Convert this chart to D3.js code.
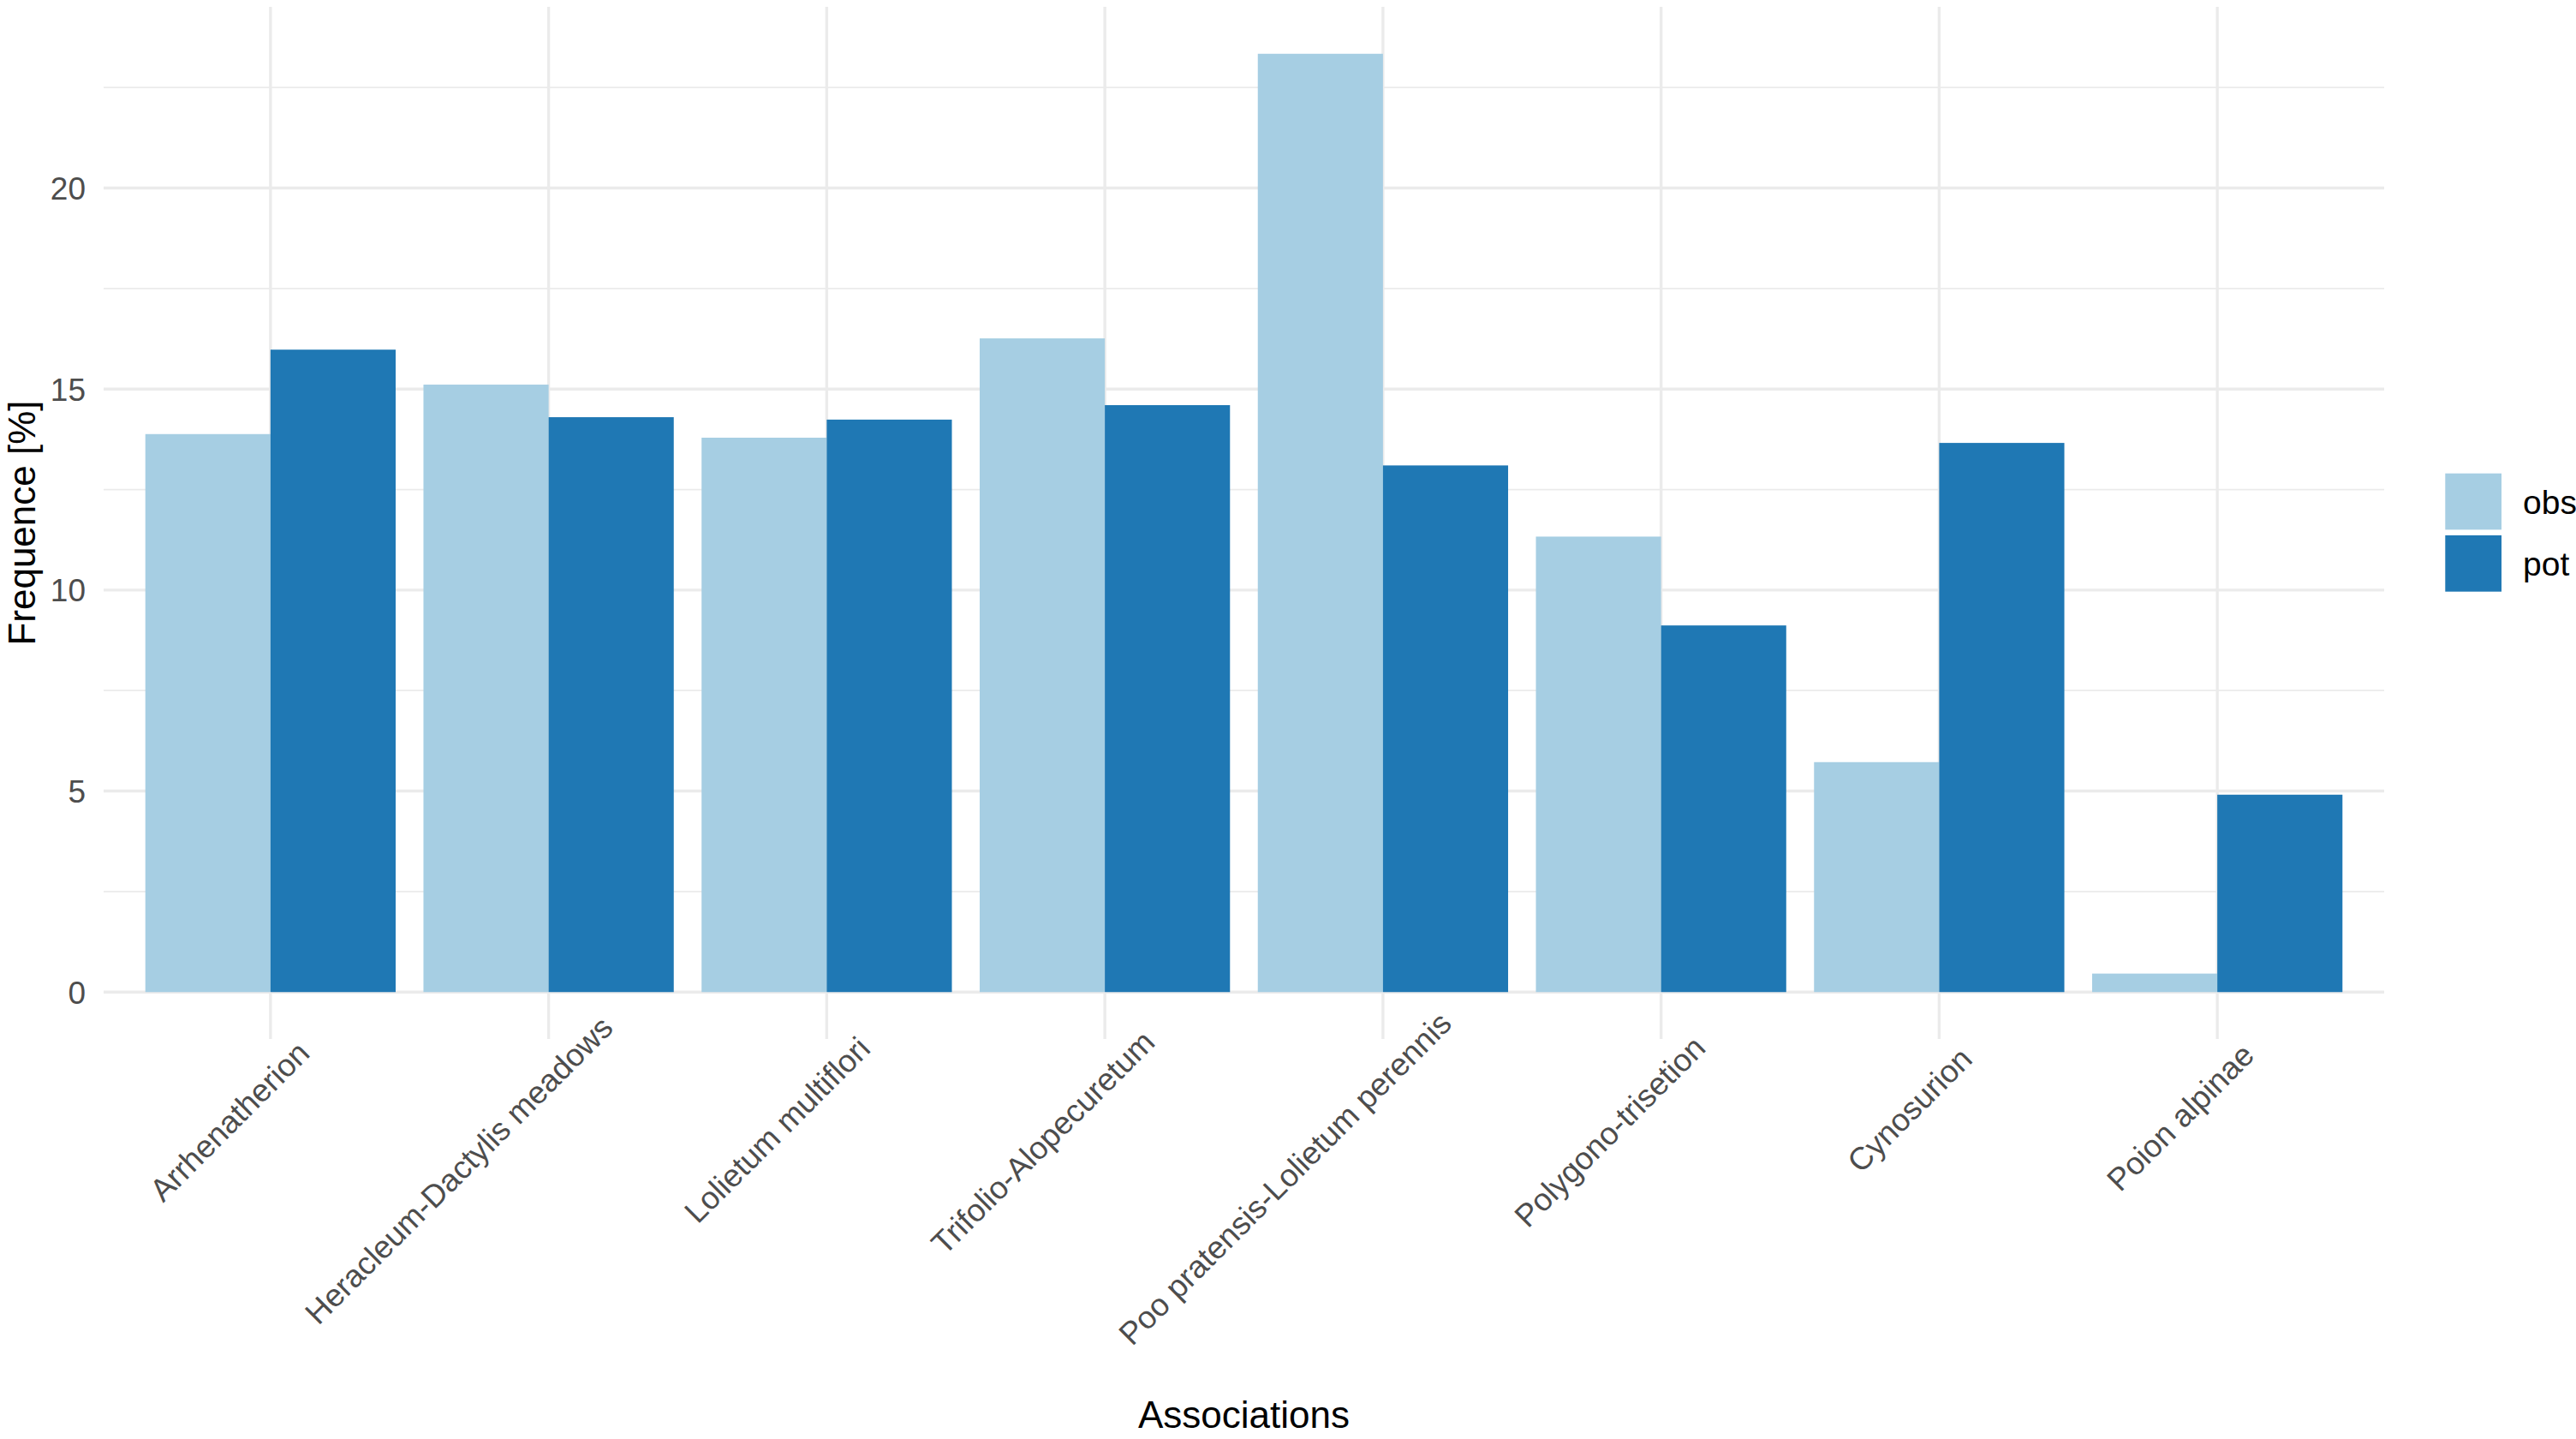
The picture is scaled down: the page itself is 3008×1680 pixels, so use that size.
<!DOCTYPE html>
<html>
<head>
<meta charset="utf-8">
<script src="https://cdn.jsdelivr.net/npm/d3@7"></script>
<style>
html, body { margin: 0; padding: 0; background: #ffffff; }
svg { display: block; }
text { font-family: "Liberation Sans", Arial, Helvetica, sans-serif; }
</style>
</head>
<body>
<svg id="chart" width="3008" height="1680"></svg>
<script>
// ---------------- data ----------------
const categories = [
  "Arrhenatherion",
  "Heracleum-Dactylis meadows",
  "Lolietum multiflori",
  "Trifolio-Alopecuretum",
  "Poo pratensis-Lolietum perennis",
  "Polygono-trisetion",
  "Cynosurion",
  "Poion alpinae"
];
const seriesNames = ["obs", "pot"];
const obsValues = [13.88, 15.11, 13.79, 16.26, 23.34, 11.33, 5.72, 0.46];
const potValues = [15.98, 14.30, 14.24, 14.60, 13.10, 9.12, 13.66, 4.91];
const yTickValues = [0, 5, 10, 15, 20];
const yMinorTickValues = [2.5, 7.5, 12.5, 17.5, 22.5];
const xAxisTitle = "Associations";
const yAxisTitle = "Frequence [%]";
const seriesColors = ["#A6CEE3", "#1F78B4"];

// ---------------- layout ----------------
const svg = d3.select("#chart");
const W = 3008, H = 1680;
const panel = { left: 121, right: 2784, top: 8, bottom: 1213 };

svg.append("rect").attr("x", 0).attr("y", 0).attr("width", W).attr("height", H).attr("fill", "#ffffff");

const rows = categories.map((c, i) => ({ cat: c, obs: obsValues[i], pot: potValues[i] }));
const maxVal = d3.max([...obsValues, ...potValues]);

const x = d3.scaleBand().domain(categories).range([panel.left, panel.right])
  .paddingInner(0).paddingOuter(0.1);
const x1 = d3.scaleBand().domain(seriesNames).range([0, x.bandwidth()])
  .paddingInner(0).paddingOuter(1 / 9);
const y = d3.scaleLinear().domain([-0.05 * maxVal, 1.05 * maxVal]).range([panel.bottom, panel.top]);
const color = d3.scaleOrdinal().domain(seriesNames).range(seriesColors);

const grid = svg.append("g");
// minor horizontal grid
grid.selectAll(".minor").data(yMinorTickValues).enter().append("line")
  .attr("x1", panel.left).attr("x2", panel.right)
  .attr("y1", d => y(d)).attr("y2", d => y(d))
  .attr("stroke", "#EBEBEB").attr("stroke-width", 1.7);
// major horizontal grid
grid.selectAll(".major").data(yTickValues).enter().append("line")
  .attr("x1", panel.left).attr("x2", panel.right)
  .attr("y1", d => y(d)).attr("y2", d => y(d))
  .attr("stroke", "#EBEBEB").attr("stroke-width", 3.4);
// vertical grid
grid.selectAll(".vmajor").data(categories).enter().append("line")
  .attr("x1", d => x(d) + x.bandwidth() / 2).attr("x2", d => x(d) + x.bandwidth() / 2)
  .attr("y1", panel.top).attr("y2", panel.bottom)
  .attr("stroke", "#EBEBEB").attr("stroke-width", 3.4);

// bars
const groups = svg.append("g").selectAll("g").data(rows).enter().append("g")
  .attr("transform", d => `translate(${x(d.cat)},0)`);
groups.selectAll("rect").data(d => seriesNames.map(s => ({ s, v: d[s] }))).enter().append("rect")
  .attr("x", d => x1(d.s))
  .attr("width", x1.bandwidth())
  .attr("y", d => y(d.v))
  .attr("height", d => y(0) - y(d.v))
  .attr("fill", d => color(d.s));

// y axis (labels only)
const yAxis = d3.axisLeft(y).tickValues(yTickValues).tickSize(0).tickPadding(0).tickFormat(d3.format("d"));
const yG = svg.append("g").attr("transform", `translate(${panel.left - 21},0)`).call(yAxis);
yG.select(".domain").remove();
yG.selectAll("text").attr("font-size", 37).attr("fill", "#4D4D4D")
  .attr("font-family", '"Liberation Sans", Arial, sans-serif').attr("dy", "0.35em");

// x axis labels, rotated 45
const d = [Math.SQRT1_2, -Math.SQRT1_2];
const u = [Math.SQRT1_2, Math.SQRT1_2];
const xLab = svg.append("g");
categories.forEach(c => {
  const cx = x(c) + x.bandwidth() / 2;
  const t = xLab.append("text").text(c)
    .attr("font-size", 37).attr("fill", "#4D4D4D")
    .attr("text-anchor", "start");
  const Wt = t.node().getComputedTextLength();
  const along = -0.829 * Wt - 21.4;
  const perp = 47;
  const sx = cx + d[0] * along + u[0] * perp;
  const sy = panel.bottom + d[1] * along + u[1] * perp;
  t.attr("transform", `translate(${sx},${sy}) rotate(-45)`);
});

// axis titles
svg.append("text").text(xAxisTitle)
  .attr("x", (panel.left + panel.right) / 2).attr("y", 1667)
  .attr("text-anchor", "middle").attr("font-size", 44).attr("fill", "#000000");
svg.append("text").text(yAxisTitle)
  .attr("transform", `translate(41,${(panel.top + panel.bottom) / 2}) rotate(-90)`)
  .attr("text-anchor", "middle").attr("font-size", 44).attr("fill", "#000000");

// legend
const legend = svg.append("g");
const keyY = [552.7, 625];
seriesNames.forEach((s, i) => {
  legend.append("rect").attr("x", 2855.3).attr("y", keyY[i]).attr("width", 65.7).attr("height", 65.7)
    .attr("fill", color(s));
  legend.append("text").text(s).attr("x", 2946).attr("y", keyY[i] + 47)
    .attr("font-size", 39).attr("fill", "#000000");
});
</script>
</body>
</html>
